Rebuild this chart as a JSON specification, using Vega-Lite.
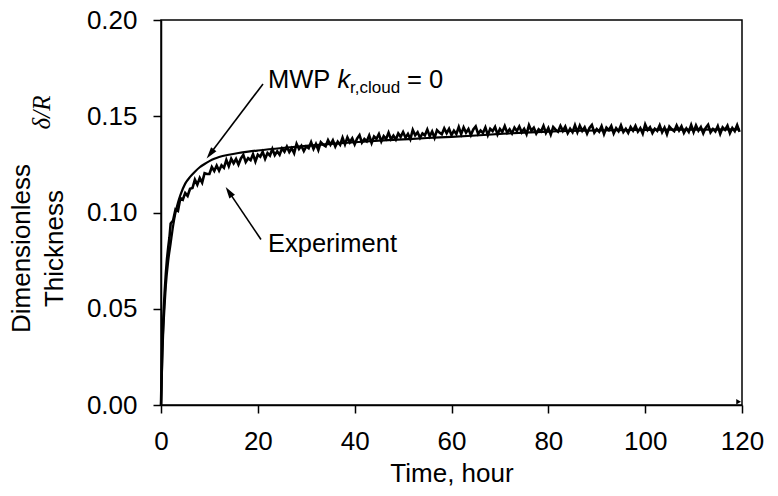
{
  "$schema": "https://vega.github.io/schema/vega-lite/v6.json",
  "width": 581,
  "height": 385,
  "autosize": {"type": "none"},
  "padding": {"left": 161, "top": 20, "right": 36, "bottom": 91},
  "background": "white",
  "config": {
    "view": {"stroke": "black", "strokeWidth": 1.5},
    "font": "Liberation Sans",
    "axis": {
      "domainColor": "black", "domainWidth": 1.5, "tickColor": "black", "tickWidth": 1.5, "tickSize": 8,
      "labelColor": "black", "labelFont": "Liberation Sans", "labelFontSize": 26,
      "titleColor": "black", "titleFont": "Liberation Sans", "titleFontSize": 26, "titleFontWeight": "normal",
      "grid": false
    }
  },
  "datasets": {
    "exp": [
      {"t":0,"v":0},{"t":0.1,"v":0.012},{"t":0.2,"v":0.024},{"t":0.3,"v":0.033},{"t":0.4,"v":0.040},{"t":0.5,"v":0.046},{"t":0.75,"v":0.058},{"t":1,"v":0.068},{"t":1.25,"v":0.076},{"t":1.5,"v":0.082},{"t":1.75,"v":0.087},
      {"t":2,"v":0.0943},{"t":2.5,"v":0.0958},{"t":3,"v":0.1016},{"t":3.5,"v":0.1008},{"t":4,"v":0.1075},{"t":4.5,"v":0.1066},{"t":5,"v":0.1101},{"t":5.5,"v":0.1086},{"t":6,"v":0.1123},{"t":6.5,"v":0.1127},{"t":7,"v":0.1171},{"t":7.5,"v":0.1145},{"t":8,"v":0.1179},{"t":8.5,"v":0.1155},{"t":9,"v":0.1204},{"t":9.5,"v":0.1200},
      {"t":10,"v":0.1200},{"t":10.5,"v":0.1236},{"t":11,"v":0.1216},{"t":11.5,"v":0.1244},{"t":12,"v":0.1217},{"t":12.5,"v":0.1245},{"t":13,"v":0.1232},{"t":13.5,"v":0.1273},{"t":14,"v":0.1241},{"t":14.5,"v":0.1279},{"t":15,"v":0.1256},{"t":15.5,"v":0.1278},{"t":16,"v":0.1249},{"t":16.5,"v":0.1281},{"t":17,"v":0.1299},{"t":17.5,"v":0.1262},{"t":18,"v":0.1282},{"t":18.5,"v":0.1272},{"t":19,"v":0.1303},{"t":19.5,"v":0.1265},
      {"t":20,"v":0.1300},{"t":20.5,"v":0.1290},{"t":21,"v":0.1315},{"t":21.5,"v":0.1279},{"t":22,"v":0.1309},{"t":22.5,"v":0.1296},{"t":23,"v":0.1330},{"t":23.5,"v":0.1298},{"t":24,"v":0.1318},{"t":24.5,"v":0.1300},{"t":25,"v":0.1333},{"t":25.5,"v":0.1316},{"t":26,"v":0.1342},{"t":26.5,"v":0.1314},{"t":27,"v":0.1334},{"t":27.5,"v":0.1308},{"t":28,"v":0.1357},{"t":28.5,"v":0.1330},{"t":29,"v":0.1347},{"t":29.5,"v":0.1319},
      {"t":30,"v":0.1343},{"t":30.5,"v":0.1334},{"t":31,"v":0.1365},{"t":31.5,"v":0.1330},{"t":32,"v":0.1356},{"t":32.5,"v":0.1324},{"t":33,"v":0.1365},{"t":33.5,"v":0.1352},{"t":34,"v":0.1344},{"t":34.5,"v":0.1376},{"t":35,"v":0.1352},{"t":35.5,"v":0.1375},{"t":36,"v":0.1343},{"t":36.5,"v":0.1368},{"t":37,"v":0.1352},{"t":37.5,"v":0.1389},{"t":38,"v":0.1354},{"t":38.5,"v":0.1390},{"t":39,"v":0.1365},{"t":39.5,"v":0.1385},
      {"t":40,"v":0.1354},{"t":40.5,"v":0.1384},{"t":41,"v":0.1402},{"t":41.5,"v":0.1363},{"t":42,"v":0.1382},{"t":42.5,"v":0.1370},{"t":43,"v":0.1400},{"t":43.5,"v":0.1361},{"t":44,"v":0.1395},{"t":44.5,"v":0.1383},{"t":45,"v":0.1407},{"t":45.5,"v":0.1369},{"t":46,"v":0.1397},{"t":46.5,"v":0.1382},{"t":47,"v":0.1415},{"t":47.5,"v":0.1381},{"t":48,"v":0.1399},{"t":48.5,"v":0.1379},{"t":49,"v":0.1411},{"t":49.5,"v":0.1393},
      {"t":50,"v":0.1418},{"t":50.5,"v":0.1389},{"t":51,"v":0.1408},{"t":51.5,"v":0.1381},{"t":52,"v":0.1429},{"t":52.5,"v":0.1401},{"t":53,"v":0.1417},{"t":53.5,"v":0.1388},{"t":54,"v":0.1411},{"t":54.5,"v":0.1401},{"t":55,"v":0.1431},{"t":55.5,"v":0.1396},{"t":56,"v":0.1421},{"t":56.5,"v":0.1388},{"t":57,"v":0.1428},{"t":57.5,"v":0.1415},{"t":58,"v":0.1406},{"t":58.5,"v":0.1437},{"t":59,"v":0.1412},{"t":59.5,"v":0.1435},
      {"t":60,"v":0.1402},{"t":60.5,"v":0.1425},{"t":61,"v":0.1408},{"t":61.5,"v":0.1444},{"t":62,"v":0.1407},{"t":62.5,"v":0.1442},{"t":63,"v":0.1415},{"t":63.5,"v":0.1434},{"t":64,"v":0.1402},{"t":64.5,"v":0.1431},{"t":65,"v":0.1447},{"t":65.5,"v":0.1408},{"t":66,"v":0.1426},{"t":66.5,"v":0.1413},{"t":67,"v":0.1442},{"t":67.5,"v":0.1402},{"t":68,"v":0.1435},{"t":68.5,"v":0.1423},{"t":69,"v":0.1445},{"t":69.5,"v":0.1406},
      {"t":70,"v":0.1434},{"t":70.5,"v":0.1418},{"t":71,"v":0.1449},{"t":71.5,"v":0.1415},{"t":72,"v":0.1432},{"t":72.5,"v":0.1411},{"t":73,"v":0.1441},{"t":73.5,"v":0.1423},{"t":74,"v":0.1447},{"t":74.5,"v":0.1417},{"t":75,"v":0.1435},{"t":75.5,"v":0.1407},{"t":76,"v":0.1454},{"t":76.5,"v":0.1425},{"t":77,"v":0.1440},{"t":77.5,"v":0.1410},{"t":78,"v":0.1432},{"t":78.5,"v":0.1421},{"t":79,"v":0.1450},{"t":79.5,"v":0.1414},
      {"t":80,"v":0.1439},{"t":80.5,"v":0.1405},{"t":81,"v":0.1444},{"t":81.5,"v":0.1430},{"t":82,"v":0.1420},{"t":82.5,"v":0.1450},{"t":83,"v":0.1424},{"t":83.5,"v":0.1446},{"t":84,"v":0.1412},{"t":84.5,"v":0.1435},{"t":85,"v":0.1417},{"t":85.5,"v":0.1453},{"t":86,"v":0.1417},{"t":86.5,"v":0.1451},{"t":87,"v":0.1424},{"t":87.5,"v":0.1443},{"t":88,"v":0.1410},{"t":88.5,"v":0.1439},{"t":89,"v":0.1455},{"t":89.5,"v":0.1415},
      {"t":90,"v":0.1433},{"t":90.5,"v":0.1420},{"t":91,"v":0.1448},{"t":91.5,"v":0.1408},{"t":92,"v":0.1441},{"t":92.5,"v":0.1428},{"t":93,"v":0.1450},{"t":93.5,"v":0.1411},{"t":94,"v":0.1438},{"t":94.5,"v":0.1422},{"t":95,"v":0.1453},{"t":95.5,"v":0.1418},{"t":96,"v":0.1435},{"t":96.5,"v":0.1414},{"t":97,"v":0.1444},{"t":97.5,"v":0.1425},{"t":98,"v":0.1450},{"t":98.5,"v":0.1420},{"t":99,"v":0.1438},{"t":99.5,"v":0.1410},
      {"t":100,"v":0.1457},{"t":100.5,"v":0.1428},{"t":101,"v":0.1443},{"t":101.5,"v":0.1413},{"t":102,"v":0.1435},{"t":102.5,"v":0.1424},{"t":103,"v":0.1453},{"t":103.5,"v":0.1417},{"t":104,"v":0.1441},{"t":104.5,"v":0.1407},{"t":105,"v":0.1446},{"t":105.5,"v":0.1432},{"t":106,"v":0.1422},{"t":106.5,"v":0.1452},{"t":107,"v":0.1426},{"t":107.5,"v":0.1448},{"t":108,"v":0.1414},{"t":108.5,"v":0.1437},{"t":109,"v":0.1419},{"t":109.5,"v":0.1455},
      {"t":110,"v":0.1418},{"t":110.5,"v":0.1452},{"t":111,"v":0.1425},{"t":111.5,"v":0.1444},{"t":112,"v":0.1411},{"t":112.5,"v":0.1440},{"t":113,"v":0.1456},{"t":113.5,"v":0.1416},{"t":114,"v":0.1434},{"t":114.5,"v":0.1421},{"t":115,"v":0.1449},{"t":115.5,"v":0.1409},{"t":116,"v":0.1442},{"t":116.5,"v":0.1429},{"t":117,"v":0.1451},{"t":117.5,"v":0.1412},{"t":118,"v":0.1439},{"t":118.5,"v":0.1423},{"t":119,"v":0.1454},{"t":119.5,"v":0.1419}
    ],
    "model": [
      {"t":0,"v":0},{"t":0.1,"v":0.008},{"t":0.2,"v":0.018},{"t":0.3,"v":0.027},{"t":0.5,"v":0.040},{"t":0.75,"v":0.052},{"t":1,"v":0.062},{"t":1.5,"v":0.075},{"t":2,"v":0.084},{"t":2.5,"v":0.093},{"t":3,"v":0.100},{"t":3.5,"v":0.105},{"t":4,"v":0.109},{"t":5,"v":0.115},{"t":6,"v":0.1185},{"t":7,"v":0.1212},{"t":8,"v":0.1235},{"t":9,"v":0.1252},{"t":10,"v":0.1267},{"t":11,"v":0.1279},{"t":12,"v":0.1288},{"t":14,"v":0.1300},{"t":16,"v":0.1309},{"t":18,"v":0.1316},{"t":20,"v":0.1322},{"t":25,"v":0.1335},{"t":30,"v":0.1346},{"t":35,"v":0.1356},{"t":40,"v":0.1365},{"t":45,"v":0.1373},{"t":50,"v":0.1380},{"t":55,"v":0.1387},{"t":60,"v":0.1393},{"t":65,"v":0.1400},{"t":70,"v":0.1408},{"t":75,"v":0.1415},{"t":80,"v":0.1420},{"t":90,"v":0.1426},{"t":100,"v":0.1429},{"t":110,"v":0.1431},{"t":119.5,"v":0.1432}
    ],
    "notes": [
      {"t":22.1,"v":0.1647,"label":"MWP","kind":"n"},
      {"t":36.43,"v":0.1647,"label":"k","kind":"i"},
      {"t":39.04,"v":0.1621,"label":"r,cloud","kind":"s"},
      {"t":50.8,"v":0.1647,"label":"= 0","kind":"n"},
      {"t":22.1,"v":0.0797,"label":"Experiment","kind":"n"}
    ],
    "arrows": [
      {"t":21.07,"v":0.1668,"t2":10.20,"v2":0.1306,"a":217.7},
      {"t":20.65,"v":0.0860,"t2":14.06,"v2":0.1106,"a":326.1}
    ],
    "stray": [{"t":119.3,"v":0.0017}]
  },
  "resolve": {"axis": {"y": "independent"}},
  "layer": [
    {
      "data": {"name": "exp"},
      "mark": {"type": "line", "color": "black", "strokeWidth": 2.6},
      "encoding": {
        "x": {"field": "t", "type": "quantitative", "scale": {"domain": [0, 120], "nice": false, "zero": false},
              "axis": {"values": [0,20,40,60,80,100,120], "labelPadding": 15, "title": "Time, hour", "titlePadding": 6, "labelFlush": false}},
        "y": {"field": "v", "type": "quantitative", "scale": {"domain": [0, 0.2], "nice": false},
              "axis": {"values": [0,0.05,0.1,0.15,0.2], "format": ".2f", "labelPadding": 16,
                       "title": ["Dimensionless", "Thickness"], "titleLineHeight": 33, "titleAngle": -90,
                       "titleBaseline": "alphabetic", "titleAlign": "center", "titleX": -132, "titleY": 228, "labelFlush": false}}
      }
    },
    {
      "data": {"name": "model"},
      "mark": {"type": "line", "color": "black", "strokeWidth": 2.2, "interpolate": "monotone"},
      "encoding": {
        "x": {"field": "t", "type": "quantitative"},
        "y": {"field": "v", "type": "quantitative",
              "axis": {"orient": "left", "labels": false, "ticks": false, "domain": false, "title": "δ/R",
                       "titleColor": "black", "titleFont": "Liberation Serif", "titleFontStyle": "italic", "titleFontSize": 25,
                       "titleAngle": -90, "titleBaseline": "alphabetic", "titleAlign": "center", "titleX": -112, "titleY": 92}}
      }
    },
    {
      "data": {"name": "arrows"},
      "mark": {"type": "rule", "color": "black", "strokeWidth": 1.6},
      "encoding": {
        "x": {"field": "t", "type": "quantitative"},
        "y": {"field": "v", "type": "quantitative", "axis": null},
        "x2": {"field": "t2"},
        "y2": {"field": "v2"}
      }
    },
    {
      "data": {"name": "arrows"},
      "mark": {"type": "point", "filled": true, "color": "black", "opacity": 1, "size": 150, "shape": "M0,-1L-0.55,0.9L0.55,0.9Z"},
      "encoding": {
        "x": {"field": "t2", "type": "quantitative"},
        "y": {"field": "v2", "type": "quantitative", "axis": null},
        "angle": {"field": "a", "type": "quantitative", "scale": null}
      }
    },
    {
      "data": {"name": "stray"},
      "mark": {"type": "point", "filled": true, "color": "black", "opacity": 1, "size": 30, "shape": "triangle-right"},
      "encoding": {
        "x": {"field": "t", "type": "quantitative"},
        "y": {"field": "v", "type": "quantitative", "axis": null}
      }
    },
    {
      "data": {"name": "notes"},
      "transform": [{"filter": "datum.kind === 'n'"}],
      "mark": {"type": "text", "align": "left", "baseline": "alphabetic", "fontSize": 25.5, "color": "black", "font": "Liberation Sans"},
      "encoding": {
        "x": {"field": "t", "type": "quantitative"},
        "y": {"field": "v", "type": "quantitative", "axis": null},
        "text": {"field": "label"}
      }
    },
    {
      "data": {"name": "notes"},
      "transform": [{"filter": "datum.kind === 'i'"}],
      "mark": {"type": "text", "align": "left", "baseline": "alphabetic", "fontSize": 25.5, "fontStyle": "italic", "color": "black", "font": "Liberation Sans"},
      "encoding": {
        "x": {"field": "t", "type": "quantitative"},
        "y": {"field": "v", "type": "quantitative", "axis": null},
        "text": {"field": "label"}
      }
    },
    {
      "data": {"name": "notes"},
      "transform": [{"filter": "datum.kind === 's'"}],
      "mark": {"type": "text", "align": "left", "baseline": "alphabetic", "fontSize": 17, "color": "black", "font": "Liberation Sans"},
      "encoding": {
        "x": {"field": "t", "type": "quantitative"},
        "y": {"field": "v", "type": "quantitative", "axis": null},
        "text": {"field": "label"}
      }
    }
  ]
}
